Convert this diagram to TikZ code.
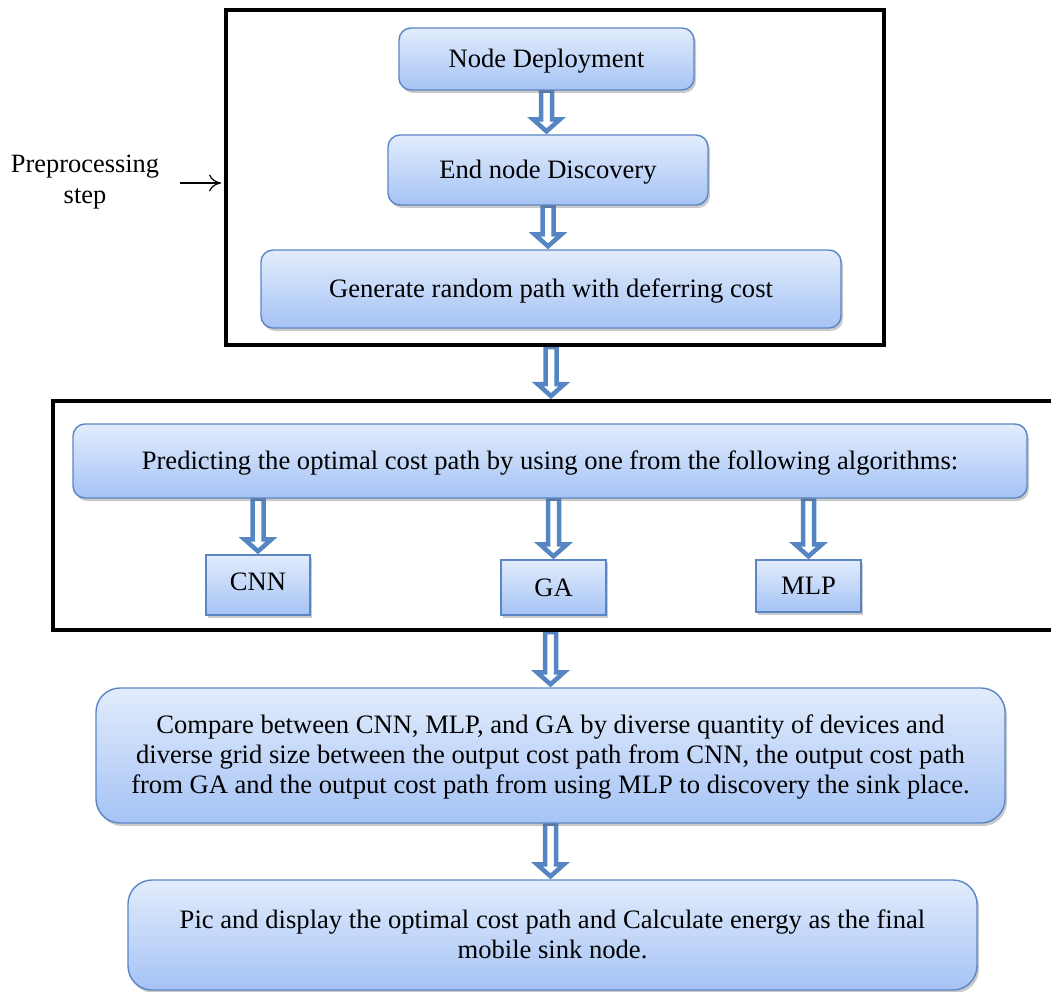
\documentclass[tikz,border=0pt]{standalone}
\usepackage{fontspec}
\setmainfont{Liberation Serif}
\usetikzlibrary{shadows,backgrounds,calc,arrows.meta}
\definecolor{boxtop}{HTML}{E2ECFC}
\definecolor{boxbot}{HTML}{A5C3F5}
\definecolor{boxline}{HTML}{5B86C4}
\definecolor{arrline}{HTML}{5585C2}
\tikzset{
  flowbox/.style={draw=boxline, line width=1.4pt, top color=boxtop, bottom color=boxbot,
    rounded corners=12pt, align=center, inner sep=0pt,
    drop shadow={shadow xshift=2pt, shadow yshift=-3pt, opacity=0.35, fill=black!60},
    font=\fontsize{26.6}{30}\selectfont},
  oneline/.style={text height=18pt, text depth=1pt},
  bigbox/.style={flowbox, rounded corners=24pt, text depth=2pt},
  algbox/.style={flowbox, rounded corners=0pt},
  frame/.style={draw=black, line width=4pt, inner sep=0pt},
  harrowstyle/.style={draw=arrline, line width=4.5pt, fill=white, line join=miter},
  plainarrow/.style={-{To[length=12pt,width=17pt,line width=1.2pt]}, line width=1.2pt},
  lbl/.style={align=center, font=\fontsize{26.4}{31}\selectfont}
}
\newcommand\harrow[2]{\draw[harrowstyle] let \p1=(#1), \p2=(#2) in
  (\x1-5.5pt,\y1) -- (\x1-5.5pt,\y2+15pt) -- (\x1-13.5pt,\y2+15pt) -- (\x1,\y2+3pt)
  -- (\x1+13.5pt,\y2+15pt) -- (\x1+5.5pt,\y2+15pt) -- (\x1+5.5pt,\y1) -- cycle;}
\begin{document}
\begin{tikzpicture}[x=1pt,y=-1pt]
\useasboundingbox (0,0) rectangle (1051,992);
\clip (0,0) rectangle (1051,992);
% frames
\node[frame, minimum width=658, minimum height=335] (f1) at (555,177.5) {};
\node[frame, minimum width=1060, minimum height=229] (f2) at (583,515.5) {};
% boxes
\node[flowbox, oneline, minimum width=295, minimum height=62] (nd) at (546.5,59) {Node Deployment};
\node[flowbox, oneline, minimum width=320, minimum height=70] (end) at (548,170) {End node Discovery};
\node[flowbox, oneline, minimum width=580, minimum height=78] (gen) at (551,289) {Generate random path with deferring cost};
\node[flowbox, oneline, minimum width=954, minimum height=74] (pred) at (550,461) {Predicting the optimal cost path by using one from the following algorithms:};
\node[algbox, text depth=7pt, minimum width=104, minimum height=60] (cnn) at (258,585) {CNN};
\node[algbox, minimum width=105, minimum height=55] (ga) at (553.5,587.5) {GA};
\node[algbox, minimum width=105, minimum height=52] (mlp) at (808.5,586) {MLP};
\node[bigbox, minimum width=909, minimum height=135] (cmp) at (550.5,755.5) {Compare between CNN, MLP, and GA by diverse quantity of devices and\\diverse grid size between the output cost path from CNN, the output cost path\\from GA and the output cost path from using MLP to discovery the sink place.};
\node[bigbox, minimum width=849, minimum height=110] (pic) at (552.5,935) {Pic and display the optimal cost path and Calculate energy as the final\\mobile sink node.};
% label
\node[lbl] (pp) at (85,182) {Preprocessing\\step};
\coordinate (ppa) at (180,183);
\draw[plainarrow, shorten >=3pt] (ppa) -- (ppa -| f1.west);
% hollow arrows
\begin{scope}[on background layer]
\harrow{nd.south}{end.north}
\harrow{end.south}{gen.north}
\harrow{f1.south -| gen.south}{f2.north}
\harrow{pred.south -| cnn.north}{cnn.north}
\harrow{pred.south -| ga.north}{ga.north}
\harrow{pred.south -| mlp.north}{mlp.north}
\harrow{f2.south -| cmp.north}{cmp.north}
\harrow{cmp.south}{pic.north}
\end{scope}
\end{tikzpicture}
\end{document}
